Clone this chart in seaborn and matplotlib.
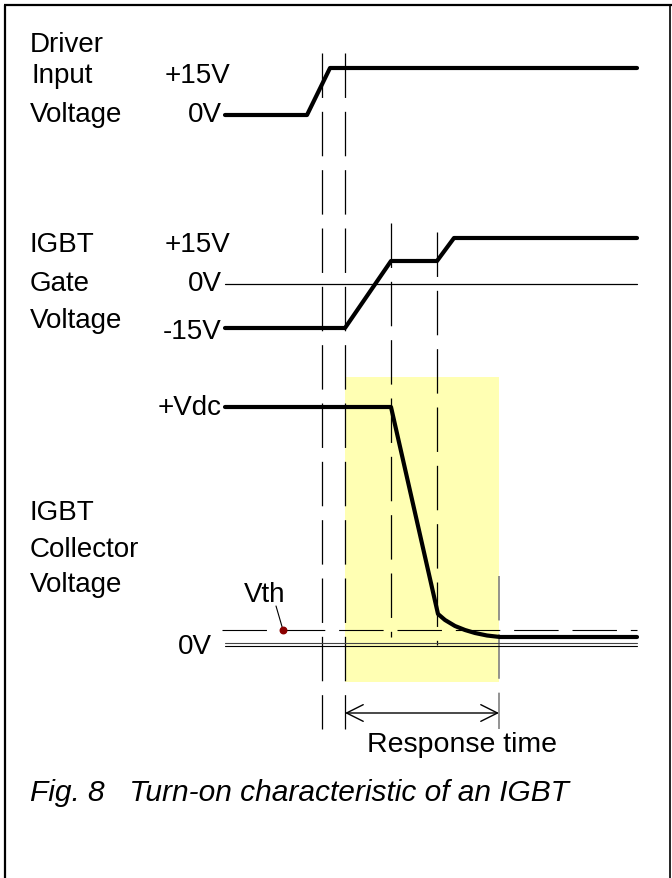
import numpy as np
import pandas as pd
import seaborn as sns
import matplotlib.pyplot as plt
from matplotlib.patches import Rectangle

# waveform points (x = time position, y = level position, picture units)
drv_x = [225, 307, 330, 637]
drv_y = [116, 116, 69, 69]

gate_x = [225, 345, 391, 437, 454, 637]
gate_y = [329, 329, 262, 262, 239, 239]
gate_zero_y = 285

col_x = [225, 391, 438, 445, 455, 465, 475, 487, 500, 637]
col_y = [408, 408, 615, 621, 627, 631, 634, 636.5, 638, 638]
col_zero_y = 646
vth_y = 631

# timing markers
mark_x = [322, 345, 391, 437]
mark_top = [54, 54, 224, 233]
mark_bot = [730, 730, 638, 646]
resp_start, resp_end = 345, 499
shade_top, shade_bot = 378, 683
arrow_y = 714

sns.set_theme(style='white')
plt.rcParams['font.family'] = ['Liberation Sans', 'DejaVu Sans']
plt.rcParams['lines.scale_dashes'] = False

fig = plt.figure(figsize=(6.72, 8.79), dpi=100)
ax = fig.add_axes([0, 0, 1, 1])

dash = (0, (32, 10))

# frame
ax.plot([5, 5], [879, 6], color='black', lw=1.6, solid_capstyle='butt')
ax.plot([4, 672], [6, 6], color='black', lw=1.6, solid_capstyle='butt')
ax.plot([670, 670], [6, 879], color='black', lw=1.2, solid_capstyle='butt')

# response time shading
ax.add_patch(Rectangle((resp_start, shade_top), resp_end - resp_start, shade_bot - shade_top,
                       facecolor='#FFFFB3', edgecolor='none', zorder=0))

# dashed timing lines
for x, y0, y1 in zip(mark_x, mark_top, mark_bot):
    ax.plot([x, x], [y0, y1], color='black', lw=0.9, linestyle=dash)
ax.plot([resp_end, resp_end], [577, 730], color='#808080', lw=1.2, linestyle=dash)

# reference lines
ax.plot([225, 637], [gate_zero_y, gate_zero_y], color='black', lw=0.9)
ax.plot([225, 637], [col_zero_y - 2, col_zero_y - 2], color='#444444', lw=0.8)
ax.plot([225, 637], [col_zero_y + 1, col_zero_y + 1], color='black', lw=0.8)
ax.plot([222, 637], [vth_y, vth_y], color='black', lw=0.8, linestyle=dash)

# waveforms
for xs, ys in [(drv_x, drv_y), (gate_x, gate_y), (col_x, col_y)]:
    df = pd.DataFrame({'t': xs, 'v': ys})
    sns.lineplot(data=df, x='t', y='v', sort=False, color='black', lw=3.0,
                 ax=ax, estimator=None)
ax.set_xlim(0, 672)
ax.set_ylim(879, 0)
ax.axis('off')

# Vth marker
ax.plot([276, 283], [607, vth_y], color='black', lw=0.8)
ax.scatter([283], [vth_y], s=22, color='#8B0000', zorder=5)

# response time arrow
ax.annotate('', xy=(resp_end, arrow_y), xytext=(resp_start, arrow_y),
            arrowprops=dict(arrowstyle='<->,head_length=0.6,head_width=0.3',
                            lw=1.0, color='black', shrinkA=0, shrinkB=0,
                            mutation_scale=20))

fs = 20
lab = dict(fontsize=fs, color='black', va='center')
ax.text(30, 45, 'Driver', **lab)
ax.text(32, 76, 'Input', **lab)
ax.text(30, 115, 'Voltage', **lab)
ax.text(165, 76, '+15V', **lab)
ax.text(222, 115, '0V', ha='right', **lab)

ax.text(30, 245, 'IGBT', **lab)
ax.text(30, 284, 'Gate', **lab)
ax.text(30, 321, 'Voltage', **lab)
ax.text(165, 245, '+15V', **lab)
ax.text(222, 284, '0V', ha='right', **lab)
ax.text(222, 332, '-15V', ha='right', **lab)

ax.text(222, 408, '+Vdc', ha='right', **lab)
ax.text(30, 513, 'IGBT', **lab)
ax.text(30, 550, 'Collector', **lab)
ax.text(30, 585, 'Voltage', **lab)
ax.text(265, 595, 'Vth', ha='center', **lab)
ax.text(212, 647, '0V', ha='right', **lab)

ax.text(462, 745, 'Response time', ha='center', fontsize=20.5, color='black', va='center')
ax.text(30, 793, 'Fig. 8   Turn-on characteristic of an IGBT', fontsize=21.5,
        style='italic', color='black', va='center')

fig.savefig('out.png', dpi=100)
